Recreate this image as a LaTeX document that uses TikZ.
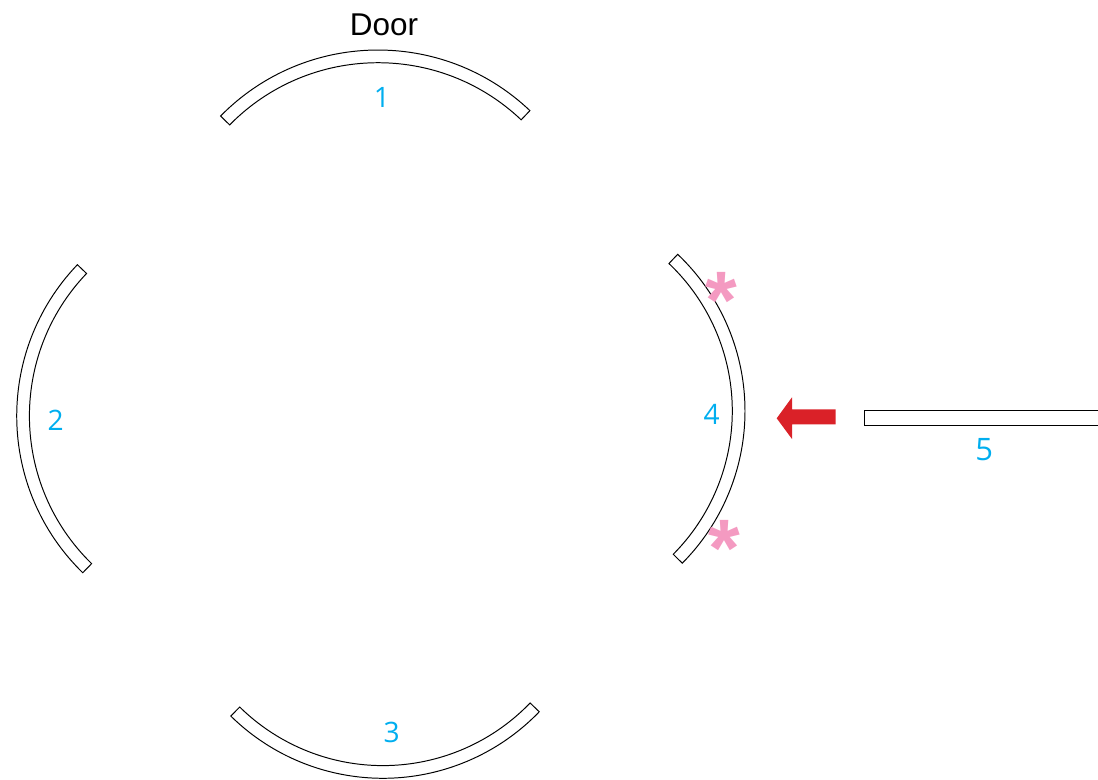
\documentclass[tikz,border=0pt]{standalone}
\usepackage{fontspec}
\setmainfont{Liberation Sans}
\newfontfamily\numfont{Open Sans}
\definecolor{numblue}{HTML}{00AEEF}
\definecolor{starpink}{HTML}{F49AC1}
\definecolor{arrowred}{HTML}{DA2128}
\tikzset{
  wall/.style={draw=black, line width=0.7pt, line join=miter},
  num/.style={text=numblue, font=\numfont\fontsize{20}{20}\selectfont},
  star/.style={text=starpink, font=\bfseries\fontsize{58}{58}\selectfont, inner sep=0pt}
}

\begin{document}
\begin{tikzpicture}[x=0.025cm, y=0.025cm]
  \useasboundingbox (0,0) rectangle (1098,779);
  % curved pieces
  \draw[wall, shift={(378,508.3)}] (135.5:220.7) arc[start angle=135.5, end angle=46.5, radius=220.7] -- (46.5:208) arc[start angle=46.5, end angle=135.5, radius=208] -- cycle;
  \draw[wall, shift={(235.7,363)}] (136.3:219) arc[start angle=136.3, end angle=225.7, radius=219] -- (225.7:206.3) arc[start angle=225.7, end angle=136.3, radius=206.3] -- cycle;
  \draw[wall, shift={(382.9,217.7)}] (225.5:217) arc[start angle=225.5, end angle=316.1, radius=217] -- (316.1:204.3) arc[start angle=316.1, end angle=225.5, radius=204.3] -- cycle;
  \draw[wall, shift={(529,368)}] (46.5:216) arc[start angle=46.5, end angle=-44.8, radius=216] -- (-44.8:203.3) arc[start angle=-44.8, end angle=46.5, radius=203.3] -- cycle;
  % straight piece
  \draw[wall] (1100,368.3) -- (864.7,368.3) -- (864.7,354) -- (1100,354);
  % arrow
  \fill[arrowred] (776.7,360.7) -- (792,381.7) -- (792,369.7) -- (835.7,369.7) -- (835.7,354.7) -- (792,354.7) -- (792,340) -- cycle;
  % labels
  \node[font=\fontsize{22.4}{23}\selectfont] (door) at (384,754) {Door};
  \node[num] (num1) at (382,682) {1};
  \node[num] (num2) at (55.7,358.3) {2};
  \node[num] (num3) at (391.7,46.3) {3};
  \node[num] (num4) at (711.7,365) {4};
  \node[num, font=\numfont\fontsize{22}{22}\selectfont] (num5) at (984.3,329) {5};
  \node[star] (star1) at (721.7,478.5) {*};
  \node[star] (star2) at (724,231) {*};
\end{tikzpicture}
\end{document}
